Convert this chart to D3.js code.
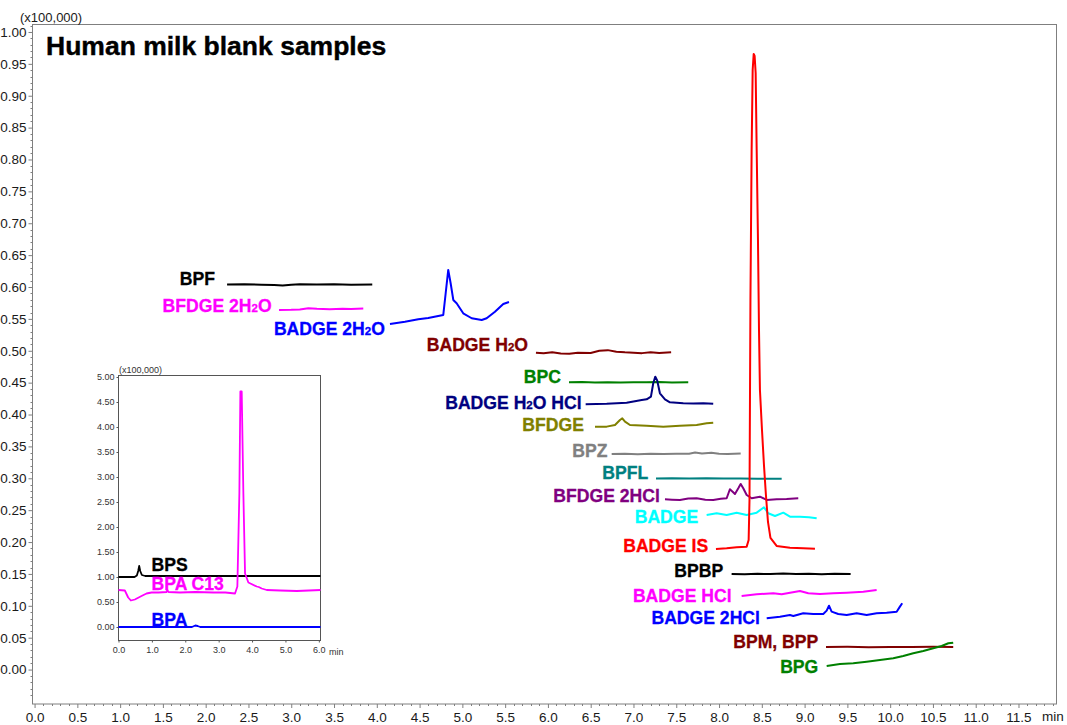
<!DOCTYPE html>
<html>
<head>
<meta charset="utf-8">
<script src="https://cdn.jsdelivr.net/npm/d3@7"></script>
<style>
  html, body { margin: 0; padding: 0; background: #fff; }
  svg { display: block; font-family: "Liberation Sans", Arial, sans-serif; }
</style>
</head>
<body>
<svg id="chart" width="1067" height="725"></svg>
<script>
// ---------------- DATA (time in min, intensity in x100,000) ----------------
const xTickValues = d3.range(0, 11.51, 0.5);
const yTickValues = d3.range(0, 1.001, 0.05);
const insetXTicks = [0, 1, 2, 3, 4, 5, 6];
const insetYTicks = d3.range(0, 5.001, 0.5);

const BPF = [[2.25,0.604],[2.45,0.6045],[2.65,0.6035],[2.8,0.603],[2.9,0.6022],[3.0,0.6035],[3.1,0.6045],[3.3,0.604],[3.5,0.6045],[3.7,0.6035],[3.947,0.6038]];
const BFDGE_2H2O = [[2.857,0.564],[3.0,0.5642],[3.1,0.5648],[3.2,0.5667],[3.3,0.5658],[3.45,0.5652],[3.6,0.566],[3.7,0.5655],[3.842,0.5662]];
const BADGE_2H2O = [[4.154,0.542],[4.329,0.5456],[4.485,0.5494],[4.601,0.5515],[4.718,0.5546],[4.777,0.5562],[4.805,0.5902],[4.835,0.6268],[4.863,0.6059],[4.894,0.5797],[4.933,0.5745],[5.01,0.5588],[5.109,0.551],[5.226,0.5483],[5.284,0.551],[5.381,0.5613],[5.478,0.5734],[5.545,0.5765]];
const BADGE_H2O = [[5.86,0.497],[5.95,0.4962],[6.05,0.4976],[6.15,0.4958],[6.25,0.4955],[6.35,0.497],[6.5,0.4965],[6.6,0.5],[6.7,0.501],[6.8,0.4985],[6.9,0.4975],[7.0,0.4968],[7.1,0.4963],[7.2,0.4976],[7.3,0.4964],[7.44,0.4975]];
const BPC = [[6.246,0.4506],[6.4,0.4509],[6.55,0.4504],[6.7,0.4508],[6.85,0.4503],[7.0,0.4507],[7.15,0.4505],[7.3,0.4509],[7.45,0.4504],[7.64,0.4506]];
const BADGE_H2O_HCl = [[6.441,0.4161],[6.687,0.417],[6.92,0.4186],[7.096,0.4228],[7.154,0.4239],[7.204,0.428],[7.231,0.449],[7.255,0.4594],[7.278,0.4531],[7.309,0.4333],[7.368,0.4239],[7.426,0.4192],[7.582,0.4177],[7.7,0.4172],[7.816,0.4178],[7.932,0.417]];
const BFDGE = [[6.55,0.381],[6.687,0.381],[6.784,0.3836],[6.842,0.3915],[6.869,0.3941],[6.901,0.3888],[6.959,0.3836],[7.154,0.3825],[7.348,0.381],[7.543,0.3825],[7.738,0.3836],[7.855,0.3863],[7.932,0.3872]];
const BPZ = [[6.745,0.338],[6.9,0.3385],[7.05,0.3378],[7.2,0.3386],[7.35,0.338],[7.5,0.3385],[7.65,0.3385],[7.72,0.3405],[7.8,0.3388],[7.91,0.3402],[8.0,0.3385],[8.1,0.3382],[8.253,0.339]];
const BPFL = [[7.263,0.2997],[7.45,0.2999],[7.65,0.2995],[7.85,0.2999],[8.05,0.2996],[8.25,0.2998],[8.45,0.2994],[8.732,0.2992]];
const BFDGE_2HCl = [[7.368,0.2671],[7.45,0.2665],[7.543,0.266],[7.64,0.2682],[7.738,0.2687],[7.84,0.2665],[7.932,0.266],[8.02,0.2678],[8.089,0.2687],[8.127,0.2828],[8.159,0.279],[8.186,0.2754],[8.225,0.2843],[8.253,0.2911],[8.283,0.2843],[8.323,0.2738],[8.381,0.2687],[8.478,0.2712],[8.557,0.266],[8.673,0.2671],[8.79,0.2676],[8.926,0.2687]];
const BADGE = [[7.855,0.2425],[7.972,0.2451],[8.089,0.2425],[8.206,0.2461],[8.323,0.2425],[8.44,0.2461],[8.525,0.2545],[8.575,0.2451],[8.654,0.2409],[8.751,0.2461],[8.829,0.2398],[8.946,0.2398],[9.05,0.239],[9.141,0.2373]];
const BADGE_IS = [[7.964,0.1891],[8.089,0.1902],[8.206,0.1918],[8.323,0.1928],[8.346,0.2033],[8.356,0.266],[8.367,0.5797],[8.381,0.8149],[8.393,0.9404],[8.405,0.9655],[8.416,0.9624],[8.428,0.9357],[8.44,0.8149],[8.455,0.6738],[8.467,0.5326],[8.478,0.4385],[8.502,0.3758],[8.525,0.3209],[8.548,0.2738],[8.572,0.2315],[8.601,0.2064],[8.673,0.1939],[8.829,0.1912],[8.984,0.1902],[9.121,0.1896]];
const BPBP = [[8.147,0.15],[8.3,0.1495],[8.45,0.1502],[8.6,0.1497],[8.75,0.1505],[8.9,0.1498],[9.05,0.1502],[9.2,0.1496],[9.35,0.1503],[9.538,0.1498]];
const BADGE_HCl = [[8.264,0.1154],[8.44,0.1181],[8.634,0.1197],[8.732,0.1181],[8.83,0.1206],[8.946,0.1233],[9.043,0.1197],[9.18,0.1186],[9.335,0.1197],[9.492,0.1206],[9.686,0.1222],[9.842,0.1248]];
const BADGE_2HCl = [[8.557,0.0805],[8.712,0.083],[8.829,0.0856],[8.868,0.0841],[8.984,0.0883],[9.101,0.0872],[9.218,0.0872],[9.258,0.0924],[9.285,0.1002],[9.316,0.0908],[9.393,0.0872],[9.492,0.0856],[9.608,0.0883],[9.725,0.0856],[9.842,0.0883],[9.959,0.0892],[10.076,0.0908],[10.114,0.0987],[10.141,0.104]];
const BPM_BPP = [[9.25,0.0354],[9.5,0.0356],[9.75,0.0352],[10.0,0.0355],[10.25,0.0353],[10.5,0.0356],[10.737,0.0354]];
const BPG = [[9.258,0.0056],[9.413,0.0088],[9.569,0.0099],[9.725,0.0124],[9.881,0.0151],[10.036,0.0177],[10.153,0.0213],[10.27,0.0256],[10.387,0.0292],[10.504,0.0334],[10.602,0.037],[10.68,0.0412],[10.737,0.0422]];

const traceNames = ["BPF","BFDGE 2H_2O","BADGE 2H_2O","BADGE H_2O","BPC","BADGE H_2O HCl","BFDGE","BPZ","BPFL","BFDGE 2HCl","BADGE","BADGE IS","BPBP","BADGE HCl","BADGE 2HCl","BPM, BPP","BPG"];
const traceData = [BPF,BFDGE_2H2O,BADGE_2H2O,BADGE_H2O,BPC,BADGE_H2O_HCl,BFDGE,BPZ,BPFL,BFDGE_2HCl,BADGE,BADGE_IS,BPBP,BADGE_HCl,BADGE_2HCl,BPM_BPP,BPG];
// label anchor (right end / baseline) in data units
const labelAnchors = [[2.108,0.6032],[2.771,0.5613],[4.095,0.5248],[5.767,0.5002],[6.152,0.449],[6.394,0.4079],[6.421,0.3747],[6.696,0.3334],[7.173,0.2985],[7.309,0.2629],[7.757,0.2304],[7.874,0.1849],[8.049,0.1448],[8.147,0.1065],[8.478,0.0715],[9.16,0.0339],[9.16,-0.0053]];

// inset (BPA group)
const BPS = [[0,1.0],[0.3,1.0],[0.48,1.0],[0.55,1.03],[0.59,1.12],[0.62,1.22],[0.65,1.12],[0.7,1.04],[0.8,1.02],[2.0,1.02],[4.0,1.02],[6.05,1.02]];
const BPA_C13 = [[0.0,0.74],[0.19,0.73],[0.29,0.59],[0.37,0.53],[0.49,0.55],[0.69,0.62],[0.84,0.67],[0.99,0.69],[1.2,0.69],[1.44,0.7],[1.46,0.74],[1.5,0.7],[1.84,0.69],[2.3,0.7],[2.84,0.69],[3.2,0.69],[3.49,0.67],[3.56,0.81],[3.62,2.67],[3.65,4.71],[3.69,4.71],[3.74,2.67],[3.79,1.07],[3.89,0.89],[4.14,0.81],[4.2,0.8],[4.29,0.77],[4.44,0.74],[4.84,0.73],[5.34,0.72],[5.7,0.73],[6.05,0.74]];
const BPA = [[0,0.0],[1.0,0.0],[2.2,0.0],[2.3,0.03],[2.37,0.02],[2.45,0.0],[4.0,0.0],[6.05,0.0]];
const insetNames = ["BPS","BPA C13","BPA"];
const insetData = [BPS, BPA_C13, BPA];
const insetLabelAnchors = [[0.99,1.12],[0.99,0.74],[0.99,0.02]];

// ---------------- STYLES ----------------
const traceColors = ["#000000","#ff00ff","#0000ff","#800000","#008000","#000080","#808000","#808080","#008080","#800080","#00ffff","#ff0000","#000000","#ff00ff","#0000ff","#800000","#008000"];
const insetColors = ["#000000","#ff00ff","#0000ff"];

// ---------------- DRAW ----------------
const svg = d3.select("#chart");
const x = d3.scaleLinear().domain([-0.03, 11.95]).range([32, 1057]);
const y = d3.scaleLinear().domain([-0.054, 1.0125]).range([704, 24]);

const axisColor = "#7f7f7f";
const textColor = "#1a1a1a";
const FONT = "Liberation Sans, Arial, sans-serif";

// plot frame
svg.append("rect").attr("x", 32.5).attr("y", 24.5).attr("width", 1024).attr("height", 679.5)
  .attr("fill", "none").attr("stroke", axisColor).attr("stroke-width", 1);

// y axis
const yAxis = d3.axisLeft(y).tickValues(yTickValues).tickFormat(d3.format(".2f")).tickSize(4).tickPadding(2);
const gy = svg.append("g").attr("transform", "translate(32.5,0)").call(yAxis);
gy.select(".domain").remove();
gy.selectAll(".tick line").attr("stroke", axisColor);
gy.selectAll(".tick text").attr("fill", textColor).attr("font-size", 13.5).attr("font-family", FONT);
// minor y ticks
const yMinor = d3.range(-0.05, 1.011, 0.01).filter(v => Math.abs(Math.round(v * 20) - v * 20) > 1e-6);
svg.append("g").selectAll("line").data(yMinor).join("line")
  .attr("x1", 30.5).attr("x2", 32.5).attr("y1", d => Math.round(y(d)) + 0.5).attr("y2", d => Math.round(y(d)) + 0.5)
  .attr("stroke", axisColor);

// x axis
const xAxis = d3.axisBottom(x).tickValues(xTickValues).tickFormat(d3.format(".1f")).tickSize(4).tickPadding(4);
const gx = svg.append("g").attr("transform", "translate(0,704)").call(xAxis);
gx.select(".domain").remove();
gx.selectAll(".tick line").attr("stroke", axisColor);
gx.selectAll(".tick text").attr("fill", textColor).attr("font-size", 13.5).attr("font-family", FONT);
const xMinor = d3.range(0, 11.91, 0.1).filter(v => Math.abs(Math.round(v * 2) - v * 2) > 1e-6);
svg.append("g").selectAll("line").data(xMinor).join("line")
  .attr("x1", d => Math.round(x(d)) + 0.5).attr("x2", d => Math.round(x(d)) + 0.5).attr("y1", 704).attr("y2", 706)
  .attr("stroke", axisColor);

svg.append("text").attr("x", 1042).attr("y", 721).attr("font-size", 13.5).attr("fill", textColor).text("min");
svg.append("text").attr("x", 20).attr("y", 22).attr("font-size", 13).attr("fill", textColor).text("(x100,000)");

// title
svg.append("text").attr("x", 46).attr("y", 55).attr("font-size", 26.5).attr("font-weight", "bold").attr("fill", "#000")
  .attr("stroke", "#000").attr("stroke-width", 0.4)
  .text("Human milk blank samples");

// label renderer with subscript support ("_2")
function addLabel(g, name, px, py, color, anchor) {
  const t = g.append("text").attr("x", px).attr("y", py).attr("text-anchor", anchor)
    .attr("font-size", 17.6).attr("font-weight", "bold").attr("fill", color)
    .attr("stroke", color).attr("stroke-width", 0.3);
  const parts = name.split("_");
  parts.forEach((p, i) => {
    if (i === 0) { t.append("tspan").text(p); }
    else {
      t.append("tspan").attr("font-size", 11.5).text(p.charAt(0));
      if (p.length > 1) t.append("tspan").attr("font-size", 17.6).text(p.slice(1));
    }
  });
}

const line = d3.line().x(d => x(d[0])).y(d => y(d[1]));
const traces = svg.append("g");
traceData.forEach((data, i) => {
  traces.append("path").attr("d", line(data)).attr("fill", "none")
    .attr("stroke", traceColors[i]).attr("stroke-width", 2).attr("stroke-linejoin", "round");
  addLabel(traces, traceNames[i], x(labelAnchors[i][0]), y(labelAnchors[i][1]), traceColors[i], "end");
});

// ---------------- INSET ----------------
const xi = d3.scaleLinear().domain([0, 6.05]).range([118.5, 320.5]);
const yi = d3.scaleLinear().domain([-0.28, 5.04]).range([641, 375]);
svg.append("rect").attr("x", 118.5).attr("y", 375.5).attr("width", 202).attr("height", 265)
  .attr("fill", "#fff").attr("stroke", "#555").attr("stroke-width", 1);

const yiAxis = d3.axisLeft(yi).tickValues(insetYTicks).tickFormat(d3.format(".2f")).tickSize(2).tickPadding(2);
const giy = svg.append("g").attr("transform", "translate(118.5,0)").call(yiAxis);
giy.select(".domain").remove();
giy.selectAll(".tick line").attr("stroke", "#555");
giy.selectAll(".tick text").attr("fill", "#333").attr("font-size", 9).attr("font-family", FONT);

const xiAxis = d3.axisBottom(xi).tickValues(insetXTicks).tickFormat(d3.format(".1f")).tickSize(2).tickPadding(4);
const gix = svg.append("g").attr("transform", "translate(0,640.5)").call(xiAxis);
gix.select(".domain").remove();
gix.selectAll(".tick line").attr("stroke", "#555");
gix.selectAll(".tick text").attr("fill", "#333").attr("font-size", 9).attr("font-family", FONT);

svg.append("text").attr("x", 329).attr("y", 655).attr("font-size", 9).attr("fill", "#333").text("min");
svg.append("text").attr("x", 119).attr("y", 373).attr("font-size", 9).attr("fill", "#333").text("(x100,000)");

const linei = d3.line().x(d => xi(d[0])).y(d => yi(d[1]));
const insetG = svg.append("g");
insetData.forEach((data, i) => {
  insetG.append("path").attr("d", linei(data)).attr("fill", "none")
    .attr("stroke", insetColors[i]).attr("stroke-width", 1.8).attr("stroke-linejoin", "round");
});
insetNames.forEach((n, i) => {
  addLabel(insetG, n, xi(insetLabelAnchors[i][0]), yi(insetLabelAnchors[i][1]), insetColors[i], "start");
});
</script>
</body>
</html>
